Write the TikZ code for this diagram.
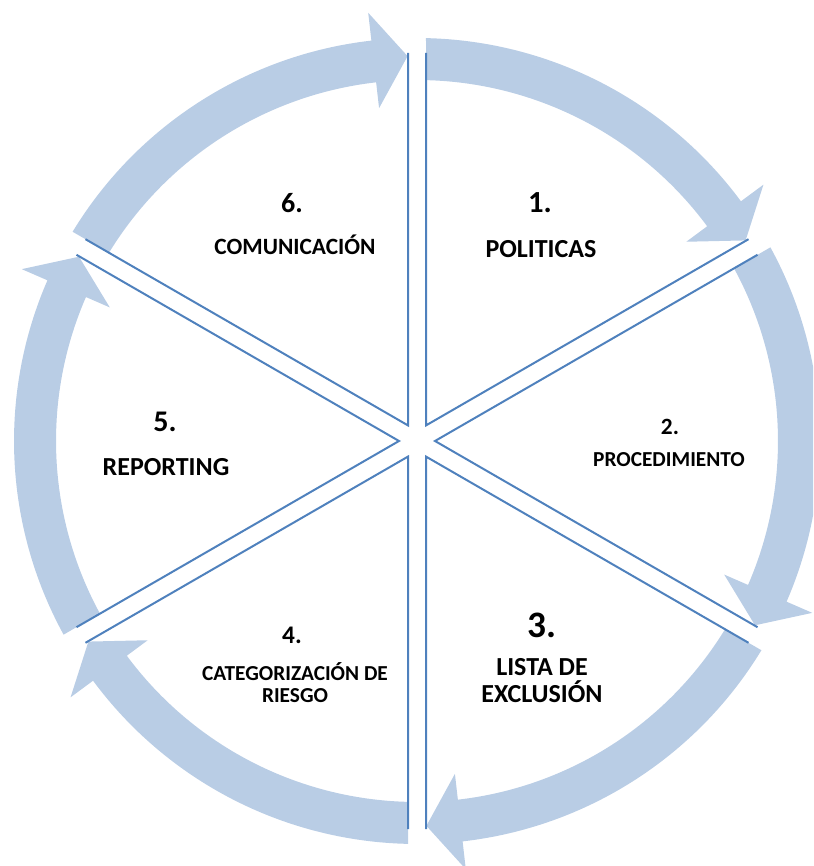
\documentclass[tikz,border=0pt]{standalone}
\usepackage{fontspec}
\setmainfont{Carlito}
\usetikzlibrary{calc}
\definecolor{ringblue}{HTML}{B9CDE5}
\definecolor{lineblue}{HTML}{4F81BD}
\tikzset{
  ringarrow/.style={fill=ringblue, draw=none},
  divider/.style={draw=lineblue, line width=1.5pt, line join=miter},
  lbl/.style={inner sep=0pt, anchor=base, text=black},
}
\newcommand{\fs}[1]{\fontsize{#1}{#1}\selectfont\bfseries}
\begin{document}
\begin{tikzpicture}[x=0.75pt, y=0.75pt]
\useasboundingbox (-417,-425) rectangle (396,441);
\clip (-417,-425) rectangle (396,441);
% ring arrows
\foreach \a in {90,30,-30,-90,-150,-210} {
  \fill[ringarrow] (\a-1.28:403) arc[start angle=\a-1.28, end angle=\a-53.5, radius=403]
    -- (\a-53.5:431) -- (\a-58.6:385) -- (\a-53.5:335) -- (\a-53.5:361)
    arc[start angle=\a-53.5, end angle=\a-1.43, radius=361] -- cycle;
}
% dividers (sector outlines)
\foreach \a in {90,30,-30,-90,-150,-210} {
  \draw[divider] ($(\a:388)+(\a-90:9)$) -- (\a-30:18) -- ($(\a-60:388)+(\a+30:9)$);
}
% labels (pixel coords converted: x-417, 441-y)
\node[lbl, font=\fs{23}] (n1) at (123,228) {1.};
\node[lbl, font=\fs{19.5}] (t1) at (124,183) {POLITICAS};
\node[lbl, font=\fs{17.5}] (n2) at (253,6) {2.};
\node[lbl, font=\fs{16}] (t2) at (252,-26) {PROCEDIMIENTO};
\node[lbl, font=\fs{28}] (n3) at (125,-196) {3.};
\node[lbl, font=\fs{19.5}] (t3a) at (125,-234) {LISTA DE};
\node[lbl, font=\fs{19.5}] (t3b) at (125,-261) {EXCLUSIÓN};
\node[lbl, font=\fs{19}] (n4) at (-125,-202) {4.};
\node[lbl, font=\fs{16}] (t4a) at (-122,-239) {CATEGORIZACIÓN DE};
\node[lbl, font=\fs{16}] (t4b) at (-122,-261) {RIESGO};
\node[lbl, font=\fs{22.5}] (n5) at (-252,9) {5.};
\node[lbl, font=\fs{19.5}] (t5) at (-251,-35) {REPORTING};
\node[lbl, font=\fs{21}] (n6) at (-125,228) {6.};
\node[lbl, font=\fs{17.5}] (t6) at (-122,186) {COMUNICACIÓN};
\end{tikzpicture}
\end{document}
